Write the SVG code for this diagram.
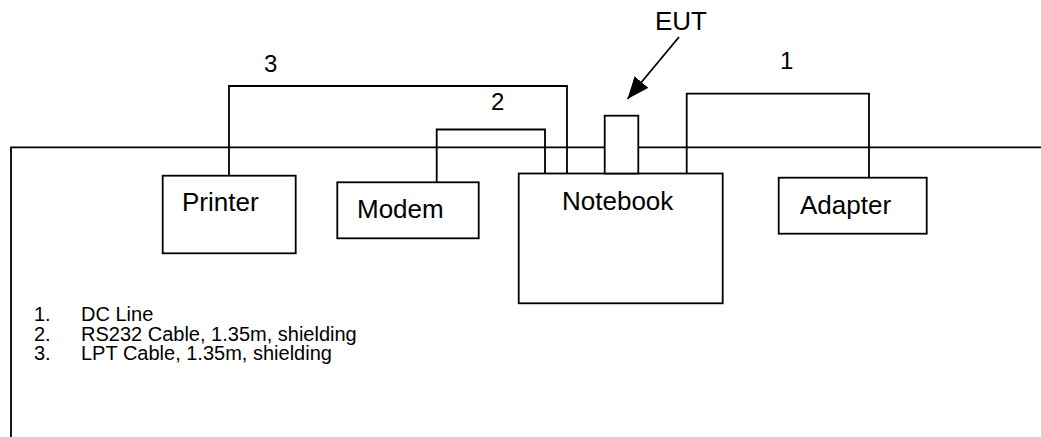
<svg xmlns="http://www.w3.org/2000/svg" width="1041" height="437" viewBox="0 0 1041 437">
<style>
.box{fill:#fff;stroke:#000;stroke-width:1.8}
.ln{fill:none;stroke:#000;stroke-width:1.8}
text{font-family:"Liberation Sans",Arial,sans-serif;fill:#000}
.nt{font-size:26px}
.lb{font-size:24px}
.lg{font-size:20px}
</style>
<defs>
<marker id="ah" markerUnits="userSpaceOnUse" markerWidth="24" markerHeight="20" refX="22" refY="9" orient="auto">
<path d="M0,0 L22,9 L0,18 Z" fill="#000"/>
</marker>
</defs>
<rect width="1041" height="437" fill="#fff"/>
<g id="table">
<path class="ln" d="M11,437 V147.3 H1041"/>
</g>
<g id="connectors">
<path id="lpt" class="ln" d="M229,175.7 V86 H567 V173.5"/>
<path id="rs232" class="ln" d="M436.7,182.3 V129.5 H545 V173.5"/>
<path id="dc" class="ln" d="M686.7,173.5 V93.7 H869 V177.7"/>
<line id="eut-arrow" class="ln" x1="679" y1="37" x2="627.5" y2="99" marker-end="url(#ah)"/>
</g>
<g id="printer">
<rect class="box" x="162.7" y="175.7" width="133" height="77.6"/>
<text class="nt" x="182" y="211">Printer</text>
</g>
<g id="modem">
<rect class="box" x="337.3" y="182.3" width="141.4" height="56"/>
<text class="nt" x="357" y="218.3">Modem</text>
</g>
<g id="notebook">
<rect class="box" x="518.7" y="173.5" width="204" height="129.8"/>
<text class="nt" x="562" y="210">Notebook</text>
</g>
<g id="eut">
<rect class="box" x="604.7" y="115.7" width="33.6" height="57.8"/>
<text class="nt" x="655" y="30">EUT</text>
</g>
<g id="adapter">
<rect class="box" x="778.7" y="177.7" width="148" height="56"/>
<text class="nt" x="800" y="214">Adapter</text>
</g>
<g id="labels">
<text class="lb" x="264" y="71.5">3</text>
<text class="lb" x="491" y="110">2</text>
<text class="lb" x="780" y="69">1</text>
</g>
<g id="legend" class="lg">
<text class="lg" x="34" y="321">1.</text><text class="lg" x="81" y="321">DC Line</text>
<text class="lg" x="34" y="340.5">2.</text><text class="lg" x="81" y="340.5">RS232 Cable, 1.35m, shielding</text>
<text class="lg" x="34" y="360">3.</text><text class="lg" x="81" y="360">LPT Cable, 1.35m, shielding</text>
</g>
</svg>
